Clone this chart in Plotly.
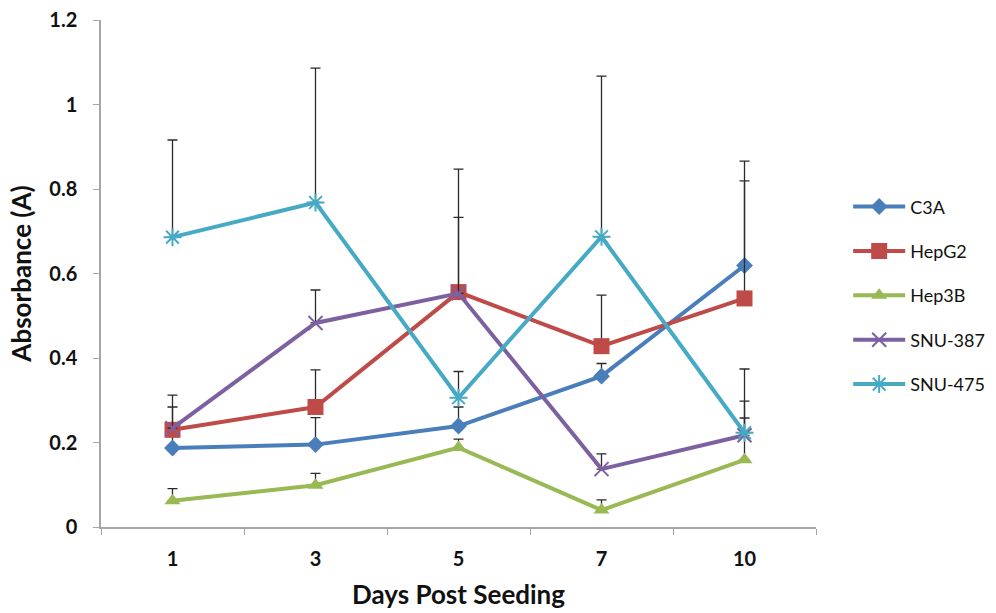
import plotly.graph_objects as go

days = ["1", "3", "5", "7", "10"]
series_names = ["C3A", "HepG2", "Hep3B", "SNU-387", "SNU-475"]

c3a = [0.187, 0.195, 0.239, 0.357, 0.619]
hepg2 = [0.230, 0.284, 0.556, 0.428, 0.541]
hep3b = [0.062, 0.099, 0.188, 0.040, 0.159]
snu387 = [0.234, 0.483, 0.553, 0.137, 0.217]
snu475 = [0.686, 0.768, 0.306, 0.687, 0.223]

c3a_err = [0.03, 0.064, 0.045, 0.03, 0.247]
hepg2_err = [0.082, 0.088, 0.291, 0.121, 0.278]
hep3b_err = [0.029, 0.028, 0.02, 0.024, 0.099]
snu387_err = [0.05, 0.078, 0.18, 0.036, 0.081]
snu475_err = [0.23, 0.318, 0.062, 0.38, 0.151]

values = [c3a, hepg2, hep3b, snu387, snu475]
errors = [c3a_err, hepg2_err, hep3b_err, snu387_err, snu475_err]
colors = ["#4A7EBB", "#BE4B48", "#98B954", "#7D60A0", "#46AAC5"]
symbols = ["diamond", "square", "triangle-up", "x-thin-open", "asterisk-open"]
sizes = [13, 16, 14, 14, 15]

FONT = "Lato"

fig = go.Figure()
for i, name in enumerate(series_names):
    sym = symbols[i]
    marker = dict(symbol=sym, size=sizes[i], color=colors[i])
    if sym.endswith("open"):
        marker["line"] = dict(color=colors[i], width=2)
    fig.add_trace(go.Scatter(
        x=days, y=values[i], name=name, mode="lines+markers",
        line=dict(color=colors[i], width=4),
        marker=marker,
        legendgroup=name,
        error_y=dict(type="data", array=errors[i], arrayminus=[0]*5,
                     symmetric=False, color="#2a2a2a", thickness=1.3, width=5),
    ))

fig.update_layout(
    width=996, height=613,
    margin=dict(l=101, r=180, t=20, b=86, autoexpand=False),
    paper_bgcolor="white", plot_bgcolor="white",
    font=dict(family=FONT, color="#000000"),
    showlegend=True,
    legend=dict(x=1.045, y=0.457, xanchor="left", yanchor="middle",
                font=dict(size=18, family=FONT, color="#111111"),
                traceorder="grouped", tracegroupgap=18,
                itemwidth=52),
    xaxis=dict(
        type="category", range=[-0.5, 4.5], automargin=False,
        showline=True, linecolor="#A6A6A6", linewidth=1.5,
        ticks="outside", ticklen=6, tickcolor="#A6A6A6", tickson="boundaries",
        tickfont=dict(size=20, family=FONT, color="#111111", weight="bold"),
        ticklabelstandoff=13,
        showgrid=False, zeroline=False,
        title=dict(text="Days Post Seeding", font=dict(size=26, family=FONT, color="#111111", weight="bold"), standoff=17),
    ),
    yaxis=dict(
        range=[0, 1.2], dtick=0.2, tickformat="~g", automargin=False,
        showline=True, linecolor="#A6A6A6", linewidth=1.5,
        ticks="outside", ticklen=6, tickcolor="#A6A6A6",
        tickfont=dict(size=20, family=FONT, color="#111111", weight="bold"),
        ticklabelstandoff=12,
        showgrid=False, zeroline=False,
        title=dict(text="Absorbance (A)", font=dict(size=26, family=FONT, color="#111111", weight="bold"), standoff=10),
    ),
)

fig.write_html("out.html")
